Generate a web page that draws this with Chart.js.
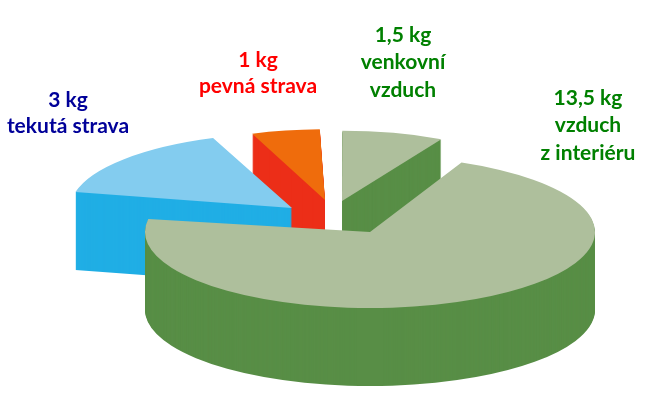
<!DOCTYPE html>
<html>
<head>
<meta charset="utf-8">
<style>
  html, body { margin: 0; background: #fff; }
  canvas { display: block; }
</style>
<script src="https://cdn.jsdelivr.net/npm/chart.js@4"></script>
</head>
<body>
<canvas id="pie" width="647" height="419"></canvas>
<script>
const categories = ['vzduch z interiéru', 'tekutá strava', 'pevná strava', 'venkovní vzduch'];
const masses = [13.5, 3, 1, 1.5];
const topColors = ['#aebf9c', '#83ccef', '#ef6c0c', '#aebf9c'];
const sideColors = ['#588e46', '#20aee5', '#ec2e18', '#588e46'];

const labelLines = [
    ['13,5 kg', 'vzduch', 'z interiéru'],
    ['3 kg', 'tekutá strava'],
    ['1 kg', 'pevná strava'],
    ['1,5 kg', 'venkovní', 'vzduch'],
];
const labelColors = ['#008000', '#000099', '#ff0000', '#008000'];

// fake 3D: the pie is squashed and extruded by hand, one slice at a time
const pieCenter = { x: 370, y: 232 };
const squash = 0.338;
const depth = 78;
const sliceShift = [[0, 0], [-78, -24], [-45, -32], [-28, -31]];
const sliceScale = [1, 0.985, 0.93, 0.925];
const sliceTurn = [0, 2.5, 3, 4.5];
const paintOrder = [2, 3, 1, 0];
const labelPos = [
    { x: 588, y: [105, 132, 160] },
    { x: 68, y: [107, 133] },
    { x: 258, y: [67, 93] },
    { x: 403, y: [42, 69, 97] },
];

function placeSlice(ctx, arc, i, drop) {
    const [dx, dy] = sliceShift[i];
    ctx.translate(pieCenter.x + dx, pieCenter.y + dy + drop);
    ctx.scale(sliceScale[i], sliceScale[i] * squash);
    ctx.rotate(sliceTurn[i] * Math.PI / 180);
    ctx.translate(-arc.x, -arc.y);
}

function drawSlice(ctx, arc, i) {
    const topOptions = arc.options;
    arc.options = Object.assign({}, topOptions, { backgroundColor: sideColors[i], borderWidth: 0 });
    for (let drop = depth; drop > 0; drop--) {
        ctx.save();
        placeSlice(ctx, arc, i, drop);
        arc.draw(ctx);
        ctx.restore();
    }
    arc.options = topOptions;
    ctx.save();
    placeSlice(ctx, arc, i, 0);
    arc.draw(ctx);
    ctx.restore();
}

const pie3d = {
    id: 'pie3d',
    beforeDatasetsDraw(chart) {
        const arcs = chart.getDatasetMeta(0).data;
        paintOrder.forEach((i) => drawSlice(chart.ctx, arcs[i], i));
        return false;
    },
    afterDraw(chart) {
        const ctx = chart.ctx;
        ctx.save();
        ctx.font = 'bold 21px Lato';
        ctx.textAlign = 'center';
        ctx.textBaseline = 'alphabetic';
        labelLines.forEach((lines, i) => {
            ctx.fillStyle = labelColors[i];
            lines.forEach((line, n) => ctx.fillText(line, labelPos[i].x, labelPos[i].y[n]));
        });
        ctx.restore();
    },
};

new Chart(document.querySelector('#pie'), {
    type: 'pie',
    data: {
        labels: categories,
        datasets: [{ data: masses, backgroundColor: topColors, borderWidth: 0 }],
    },
    options: {
        responsive: false,
        animation: false,
        events: [],
        rotation: 24,
        radius: 225,
        plugins: { legend: { display: false }, tooltip: { enabled: false } },
    },
    plugins: [pie3d],
});
</script>
</body>
</html>
